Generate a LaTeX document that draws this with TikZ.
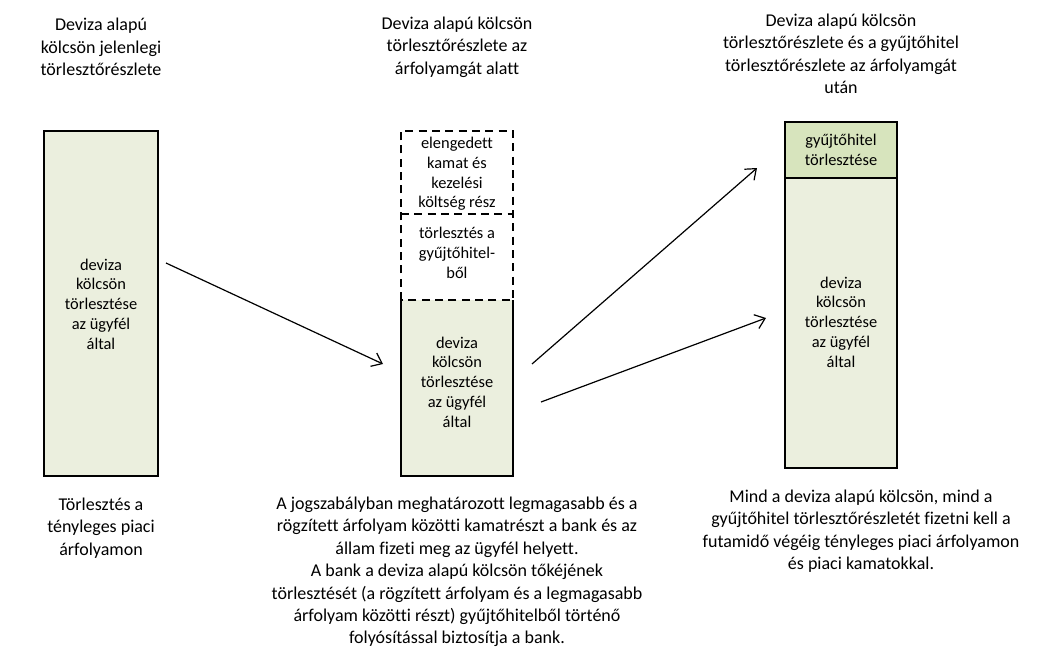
\documentclass[tikz,border=0pt]{standalone}
\usepackage{fontspec}
\setmainfont{Carlito}[Ligatures=NoCommon]
\usetikzlibrary{arrows.meta}
\definecolor{lightgr}{RGB}{235,239,222}
\definecolor{midgr}{RGB}{215,228,189}
\begin{document}
\begin{tikzpicture}[x=0.75pt,y=-0.75pt,
  lbl/.style={font=\fontsize{13.5}{16.8}\selectfont, align=center, inner sep=0},
  inlbl/.style={font=\fontsize{12.3}{14.8}\selectfont, align=center, inner sep=0},
  boxline/.style={draw=black, line width=1.1pt},
  dashline/.style={draw=black, line width=1.1pt, dash pattern=on 6pt off 4pt},
  arr/.style={line width=0.9pt, -{Straight Barb[length=7pt,width=11pt]}}]
\useasboundingbox (0,0) rectangle (1043,657);

% top captions
\node[lbl] (t1) at (101,47) {Deviza alapú\\kölcsön jelenlegi\\törlesztőrészlete};
\node[lbl] (t2) at (457,47) {Deviza alapú kölcsön\\törlesztőrészlete az\\árfolyamgát alatt};
\node[lbl] (t3) at (841,54) {Deviza alapú kölcsön\\törlesztőrészlete és a gyűjtőhitel\\törlesztőrészlete az árfolyamgát\\után};

% left box
\fill[lightgr] (44,131) rectangle (158,476);
\draw[boxline] (44,131) rectangle (158,476);
\node[inlbl] (b1) at (101,304) {deviza\\kölcsön\\törlesztése\\az ügyfél\\által};

% middle box
\fill[lightgr] (401,300) rectangle (513,476);
\draw[boxline] (401,300) -- (401,476) -- (513,476) -- (513,300);
\draw[dashline] (401,300) -- (401,131) -- (513,131) -- (513,300) -- cycle;
\draw[dashline] (401,214) -- (513,214);
\node[inlbl] (m1) at (457,174) {elengedett\\kamat és\\kezelési\\költség rész};
\node[inlbl] (m2) at (457,253) {törlesztés a\\gyűjtőhitel-\\ből};
\node[inlbl] (m3) at (457,382) {deviza\\kölcsön\\törlesztése\\az ügyfél\\által};

% right box
\fill[midgr] (785,122) rectangle (897,178);
\fill[lightgr] (785,178) rectangle (897,468);
\draw[boxline] (785,122) rectangle (897,468);
\draw[boxline] (785,178) -- (897,178);
\node[inlbl] (r1) at (841,150) {gyűjtőhitel\\törlesztése};
\node[inlbl] (r2) at (841,322) {deviza\\kölcsön\\törlesztése\\az ügyfél\\által};

% arrows
\coordinate (a1s) at (166,263); \coordinate (a1e) at (383,364);
\coordinate (a2s) at (532,364); \coordinate (a2e) at (757,168);
\coordinate (a3s) at (541,402); \coordinate (a3e) at (766,318);
\draw[arr] (a1s) -- (a1e);
\draw[arr] (a2s) -- (a2e);
\draw[arr] (a3s) -- (a3e);

% bottom captions
\node[lbl] (c1) at (101,528) {Törlesztés a\\tényleges piaci\\árfolyamon};
\node[lbl] (c2) at (457,572) {A jogszabályban meghatározott legmagasabb és a\\rögzített árfolyam közötti kamatrészt a bank és az\\állam fizeti meg az ügyfél helyett.\\A bank a deviza alapú kölcsön tőkéjének\\törlesztését (a rögzített árfolyam és a legmagasabb\\árfolyam közötti részt) gyűjtőhitelből történő\\folyósítással biztosítja a bank.};
\node[lbl] (c3) at (861,531) {Mind a deviza alapú kölcsön, mind a\\gyűjtőhitel törlesztőrészletét fizetni kell a\\futamidő végéig tényleges piaci árfolyamon\\és piaci kamatokkal.};
\end{tikzpicture}
\end{document}
